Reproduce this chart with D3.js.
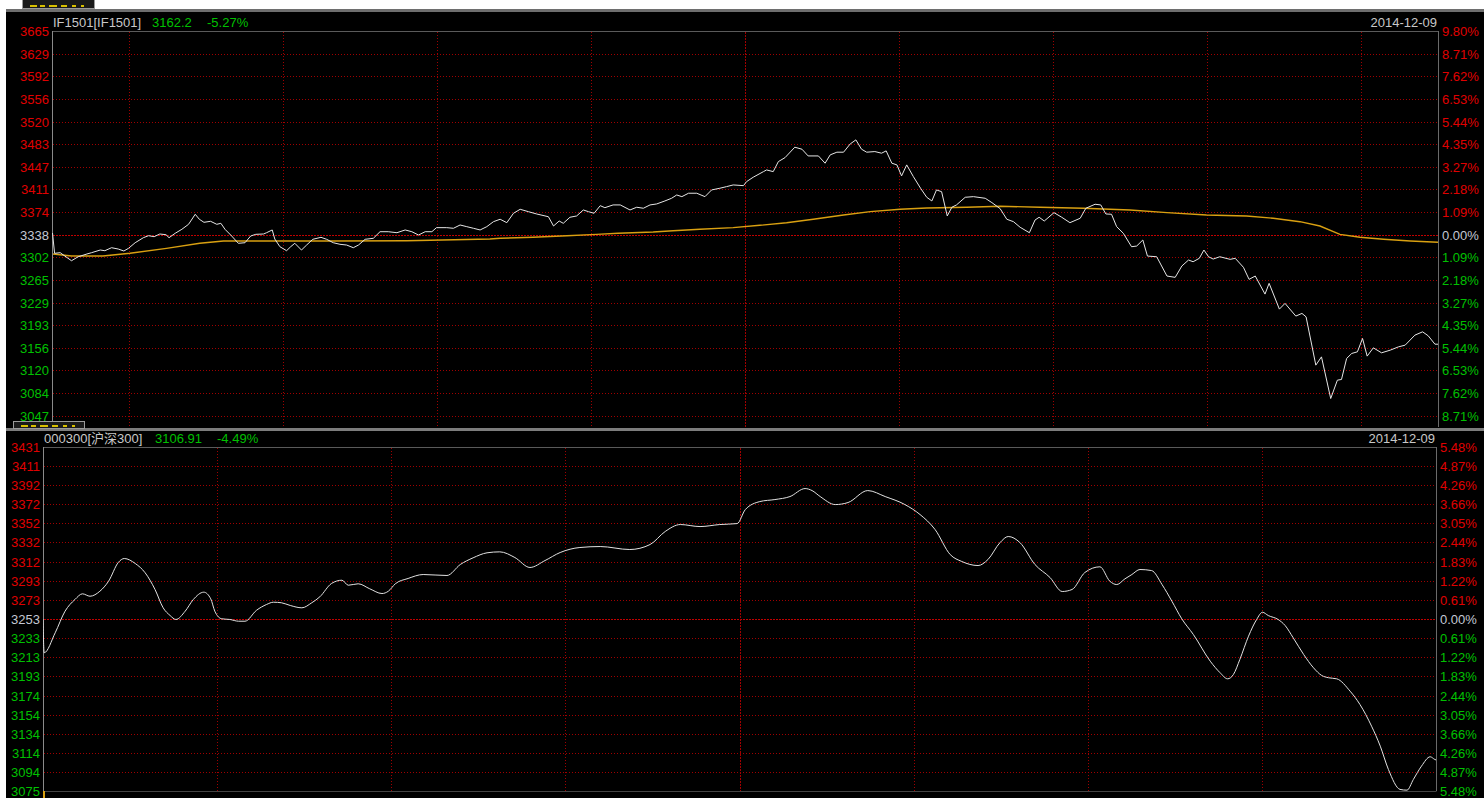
<!DOCTYPE html>
<html><head><meta charset="utf-8">
<script src="https://cdn.jsdelivr.net/npm/d3@7"></script>
<style>html,body{margin:0;padding:0;background:#fff;overflow:hidden}svg{display:block}</style>
</head><body><svg id="c" width="1484" height="798"></svg>
<script>
// ---------------- data ----------------
const topBase = 3338.1, topMaxPct = 9.80;           // IF1501 previous settlement
const botBase = 3253.0, botMaxPct = 5.48;           // CSI300 previous close
const topPriceLabels = [3665,3629,3592,3556,3520,3483,3447,3411,3374,3338,3302,3265,3229,3193,3156,3120,3084,3047];
const topPctLabels = [9.80,8.71,7.62,6.53,5.44,4.35,3.27,2.18,1.09,0,-1.09,-2.18,-3.27,-4.35,-5.44,-6.53,-7.62,-8.71];
const botPriceLabels = [3431,3411,3392,3372,3352,3332,3312,3293,3273,3253,3233,3213,3193,3174,3154,3134,3114,3094,3075];
const botPctLabels = [5.48,4.87,4.26,3.66,3.05,2.44,1.83,1.22,0.61,0,-0.61,-1.22,-1.83,-2.44,-3.05,-3.66,-4.26,-4.87,-5.48];
const topGridMinutes = [15,45,75,105,135,165,195,225,255];   // from 09:15, 270 min session
const topBreakMinute = 135;
const botGridMinutes = [30,60,90,120,150,180,210];           // from 09:30, 240 min session
const botBreakMinute = 120;

const ifMinute = [0.1,0.5,1.6,2.5,3.8,5.1,6.8,7.7,9.4,10.3,
11.6,12.9,14.0,14.9,16.2,17.8,18.8,19.9,21.0,22.2,
22.8,24.0,25.3,26.6,27.9,28.7,29.6,30.9,32.1,32.9,
33.7,35.0,36.3,37.6,38.7,39.7,41.2,41.8,42.9,43.4,
44.4,45.7,46.5,47.3,48.6,49.6,50.8,52.4,53.5,54.8,
56.1,57.4,58.7,59.7,61.0,62.6,63.9,65.5,67.2,68.8,
70.1,71.4,72.7,74.0,74.9,76.9,78.2,79.5,80.8,82.1,
83.4,84.7,86.0,87.3,88.6,89.9,91.2,92.8,94.4,96.7,
97.7,98.8,99.6,100.9,102.2,103.5,104.5,105.6,106.8,107.7,
109.3,110.7,112.6,113.9,115.2,116.5,117.8,119.4,120.7,121.7,
122.7,124.0,125.6,127.2,128.5,130.1,131.4,132.7,134.7,135.3,
136.6,138.6,139.2,140.5,141.5,142.8,144.7,146.1,147.3,149.3,
150.6,151.6,152.9,154.2,155.5,156.6,157.7,158.7,160.3,161.6,
162.5,163.6,164.6,165.5,166.5,167.8,169.2,170.4,171.4,172.3,
173.3,174.4,175.3,176.2,177.9,179.5,181.8,183.1,184.7,186.0,
187.3,188.6,190.4,191.5,192.3,193.3,195.2,196.7,198.3,200.3,
201.4,203.2,204.3,205.3,206.4,207.4,208.7,210.3,211.3,212.5,
213.4,215.2,217.2,218.8,220.1,221.4,222.3,223.5,224.4,225.3,
226.2,227.5,229.5,230.5,232.1,233.2,234.4,236.3,237.1,239.1,
240.2,242.3,243.5,244.3,246.2,247.3,249.1,250.4,251.2,252.2,
253.2,254.3,255.3,256.2,257.4,259.0,260.7,262.3,263.6,265.5,
267.0,268.1,269.4,270];
const ifPrice = [3340.8,3308.2,3309.2,3303.8,3296.3,3302.7,3307.1,3309.2,3313.5,3312.4,
3317.2,3315.1,3311.9,3316.2,3325.2,3333.3,3336.5,3334.9,3339.2,3338.1,
3333.3,3340.4,3346.8,3354.8,3370.9,3362.9,3358.0,3359.6,3354.8,3356.4,
3346.8,3336.0,3324.3,3325.2,3336.0,3338.7,3339.2,3341.3,3345.7,3331.2,
3318.8,3312.4,3318.8,3324.3,3313.5,3321.5,3330.7,3333.9,3330.7,3325.2,
3322.7,3321.5,3317.2,3321.5,3330.7,3332.3,3342.9,3342.9,3341.3,3345.7,
3342.9,3337.6,3342.9,3342.9,3349.4,3349.4,3348.4,3353.7,3351.0,3348.4,
3345.7,3351.0,3359.0,3362.9,3357.4,3372.5,3378.9,3375.1,3371.4,3367.0,
3352.1,3360.1,3356.4,3366.1,3368.2,3377.8,3375.1,3372.5,3384.7,3381.5,
3385.9,3385.9,3377.8,3382.2,3380.6,3385.9,3387.5,3392.3,3396.6,3401.9,
3399.2,3404.7,3404.7,3399.2,3410.0,3412.7,3415.3,3418.0,3416.9,3423.3,
3430.4,3439.4,3442.1,3439.4,3455.5,3461.9,3478.6,3475.4,3464.6,3464.6,
3452.9,3466.3,3470.6,3470.6,3483.9,3490.4,3475.4,3470.6,3471.6,3469.0,
3472.7,3452.9,3450.2,3432.5,3450.2,3431.4,3412.7,3398.2,3392.3,3410.0,
3407.2,3368.2,3382.2,3385.9,3398.2,3399.2,3396.6,3389.6,3380.0,3362.9,
3359.0,3350.0,3341.3,3361.7,3366.1,3360.1,3373.5,3366.1,3357.4,3364.5,
3380.6,3387.0,3385.9,3371.4,3370.9,3351.0,3340.4,3318.8,3319.9,3329.6,
3303.8,3302.7,3271.7,3269.6,3287.8,3297.4,3294.7,3300.2,3313.5,3302.7,
3299.0,3302.7,3298.5,3300.2,3285.7,3266.4,3271.7,3242.7,3260.0,3218.6,
3227.8,3207.4,3211.7,3206.2,3128.6,3141.9,3075.0,3104.5,3105.6,3139.4,
3147.4,3150.0,3171.5,3143.1,3156.4,3148.4,3152.7,3158.0,3160.7,3176.8,
3182.1,3175.7,3162.3,3162.2];

const ifAvgMinute = [0.2,3.8,9.9,15.2,22.3,28.8,33.4,41.8,54.8,69.1,
85.3,87.3,93.7,100.3,106.1,110.3,117.1,121.0,126.2,132.7,
137.9,143.1,148.3,154.2,159.4,165.2,170.4,178.2,184.7,192.5,
200.9,210.0,217.2,224.9,232.7,237.9,243.1,247.0,250.9,254.8,
259.4,264.6,270];
const ifAvgPrice = [3307.1,3303.8,3303.8,3308.2,3316.2,3324.3,3328.0,3328.0,3328.0,3328.5,
3331.2,3332.3,3333.9,3336.5,3338.7,3340.4,3342.4,3344.5,3346.8,3349.4,
3353.2,3357.4,3362.9,3369.8,3375.1,3378.9,3381.0,3382.2,3383.8,3382.2,
3380.6,3377.8,3373.5,3369.8,3368.2,3364.5,3359.0,3352.1,3338.7,3333.9,
3330.7,3328.0,3325.9];

const hsMinute = [0,0.2,2.1,3.8,5.5,6.8,8.1,9.8,11.3,13.0,
14.0,15.9,17.6,19.3,20.7,21.9,22.9,24.5,25.9,27.7,
28.9,29.6,30.8,32.2,33.7,34.8,36.8,38.5,39.7,41.1,
42.6,44.6,46.3,47.7,49.7,51.5,52.6,54.3,56.3,58.4,
59.5,60.7,62.9,65.5,69.6,71.9,74.1,76.5,78.7,81.3,
83.9,86.5,89.1,92.5,96.0,101.1,104.6,107.2,109.8,113.2,
116.6,119.6,121.0,123.5,126.1,128.7,131.3,132.5,133.9,136.5,
138.7,142.1,145.1,148.5,151.1,153.7,156.3,158.3,161.1,162.8,
164.9,166.3,168.3,170.9,173.5,175.6,177.3,179.5,182.1,183.8,
185.0,186.4,187.6,189.0,191.0,192.8,194.5,196.2,198.2,201.1,
202.8,204.1,205.1,206.2,207.7,209.1,210.1,211.1,212.8,214.0,
215.4,217.2,218.9,220.3,221.5,222.9,225.2,226.9,228.9,230.4,
231.8,233.8,235.0,236.1,237.5,239.0,239.8,240];
const hsPrice = [3253.0,3218.0,3238.7,3261.1,3273.2,3279.1,3276.6,3281.8,3292.2,3311.8,
3315.7,3310.5,3300.9,3283.6,3264.6,3256.6,3252.5,3261.1,3273.2,3280.8,
3273.9,3261.1,3253.2,3252.5,3250.7,3250.7,3262.1,3268.0,3270.4,3269.8,
3267.0,3264.6,3269.8,3276.0,3289.8,3293.2,3288.0,3289.5,3284.3,3279.4,
3281.8,3289.5,3295.0,3299.1,3298.1,3309.5,3316.4,3321.6,3322.6,3316.7,
3306.4,3313.6,3321.9,3327.1,3328.1,3325.0,3330.2,3343.7,3350.9,3348.8,
3350.9,3351.9,3366.4,3374.7,3376.8,3379.9,3388.2,3386.1,3379.9,3371.6,
3373.7,3386.1,3379.9,3371.6,3361.3,3345.7,3319.8,3312.6,3308.4,3314.6,
3332.3,3338.5,3332.3,3309.5,3296.0,3281.5,3283.6,3301.2,3307.1,3292.2,
3288.7,3294.6,3299.1,3304.3,3303.2,3288.7,3271.4,3253.2,3236.9,3209.3,
3197.3,3191.0,3195.5,3211.0,3235.2,3252.5,3260.0,3256.6,3252.5,3246.3,
3233.5,3216.2,3202.4,3194.5,3192.1,3191.0,3178.2,3164.4,3141.9,3121.2,
3097.1,3076.4,3075.6,3086.7,3100.5,3110.2,3107.4,3106.9];

// ---------------- drawing ----------------
const FONT = "'Liberation Sans', Tahoma, 'Noto Sans CJK SC', sans-serif";
const RED = "#e00000", GREEN = "#00c000", BASEC = "#c4c8d4", GRID = "#a00000";
const svg = d3.select("#c");

svg.append("rect").attr("width",1484).attr("height",798).attr("fill","#fff");
svg.append("rect").attr("x",6).attr("y",9).attr("width",1478).attr("height",3).attr("fill","#6e6e6e");
svg.append("rect").attr("x",6).attr("y",12).attr("width",1478).attr("height",786).attr("fill","#000");

// small cut-off toolbar tabs (decorative, no readable text)
function tab(x, y, w, h) {
  svg.append("rect").attr("x",x+0.5).attr("y",y+0.5).attr("width",w-1).attr("height",h-1)
    .attr("fill","#1a1a1a").attr("stroke","#9a9a9a");
  const marks = [[8,7],[18,5],[27,8],[39,6],[50,4],[59,3]];
  marks.forEach(([dx, len]) => svg.append("rect").attr("x", x + dx).attr("y", y + h - 4)
    .attr("width", len).attr("height", 2).attr("fill", "#d8c000"));
}
tab(22, -2, 73, 11);

function panel(cfg) {
  const x = d3.scaleLinear().domain([0, cfg.minutes]).range([cfg.x0, cfg.x1]);
  const y = d3.scaleLinear().domain([cfg.base, cfg.base * (1 + cfg.maxPct / 100)]).range([cfg.baseY, cfg.y0]);
  const yPct = p => y(cfg.base * (1 + p / 100));
  const g = svg.append("g");
  svg.select("defs").empty() && svg.append("defs");
  svg.select("defs").append("clipPath").attr("id", cfg.id).append("rect")
    .attr("x", cfg.x0).attr("y", cfg.y0 - 2).attr("width", cfg.x1 - cfg.x0).attr("height", cfg.yClip - cfg.y0 + 2);

  // horizontal grid
  g.selectAll("line.h").data(cfg.pcts.filter(p => p !== cfg.pcts[0])).join("line")
    .attr("x1", cfg.x0 + 1).attr("x2", cfg.x1)
    .attr("y1", p => Math.round(yPct(p)) + 0.5).attr("y2", p => Math.round(yPct(p)) + 0.5)
    .attr("stroke", p => p === 0 ? "#c00000" : GRID)
    .attr("stroke-dasharray", p => p === 0 ? "2,1" : "1,2");
  // vertical grid
  g.selectAll("line.v").data(cfg.grid).join("line")
    .attr("x1", m => Math.round(x(m)) + 0.5).attr("x2", m => Math.round(x(m)) + 0.5)
    .attr("y1", cfg.y0 + 1).attr("y2", cfg.yClip)
    .attr("stroke", GRID)
    .attr("stroke-dasharray", m => m === cfg.brk ? "2,1" : "1,2");

  // frame
  g.append("line").attr("x1", cfg.x0).attr("x2", cfg.x1 + 0.5).attr("y1", cfg.y0 + 0.5).attr("y2", cfg.y0 + 0.5).attr("stroke", "#5a5a5a");
  g.append("line").attr("x1", cfg.x0 + 0.5).attr("x2", cfg.x0 + 0.5).attr("y1", cfg.y0).attr("y2", cfg.yClip).attr("stroke", "#8a8a8a");
  g.append("line").attr("x1", cfg.x1 + 0.5).attr("x2", cfg.x1 + 0.5).attr("y1", cfg.y0).attr("y2", cfg.yClip).attr("stroke", "#6a6a6a");
  if (cfg.bottomLine) g.append("line").attr("x1", cfg.x0).attr("x2", cfg.x1 + 0.5)
    .attr("y1", Math.round(yPct(cfg.pcts[cfg.pcts.length - 1])) + 0.5).attr("y2", Math.round(yPct(cfg.pcts[cfg.pcts.length - 1])) + 0.5)
    .attr("stroke", "#444");

  const col = p => p > 0 ? RED : (p < 0 ? GREEN : BASEC);
  // left price labels
  g.selectAll("text.l").data(cfg.prices).join("text")
    .attr("x", cfg.x0 - 3).attr("y", (d, i) => yPct(cfg.pcts[i]) + 5)
    .attr("text-anchor", "end").attr("font-family", FONT).attr("font-size", 13)
    .attr("fill", (d, i) => col(cfg.pcts[i])).text(d => d);
  // right percent labels
  g.selectAll("text.r").data(cfg.pcts).join("text")
    .attr("x", cfg.x1 + 4).attr("y", p => yPct(p) + 5)
    .attr("font-family", FONT).attr("font-size", 13)
    .attr("fill", col).text(p => Math.abs(p).toFixed(2) + "%");

  // header
  const hy = cfg.y0 - 4;
  const h = g.append("text").attr("y", hy).attr("font-family", FONT).attr("font-size", 13);
  h.append("tspan").attr("x", cfg.x0 + 1).attr("fill", "#c8c8c8").text(cfg.title);
  h.append("tspan").attr("x", cfg.valX).attr("fill", GREEN).text(cfg.last);
  h.append("tspan").attr("x", cfg.chgX).attr("fill", GREEN).text(cfg.chg);
  g.append("text").attr("x", cfg.x1 - 1).attr("y", hy).attr("text-anchor", "end")
    .attr("font-family", FONT).attr("font-size", 13).attr("fill", "#c8c8c8").text("2014-12-09");

  const lines = g.append("g").attr("clip-path", `url(#${cfg.id})`);
  cfg.series.forEach(s => {
    const pts = s.m.map((m, i) => [m, s.v[i]]);
    lines.append("path").attr("d", d3.line().x(d => x(d[0])).y(d => y(d[1])).curve(s.curve)(pts))
      .attr("fill", "none").attr("stroke", s.color).attr("stroke-width", s.w);
  });
}

panel({
  id: "clipTop", x0: 52, x1: 1438, y0: 31, baseY: 234.7, yClip: 427, minutes: 270,
  base: topBase, maxPct: topMaxPct, pcts: topPctLabels, prices: topPriceLabels,
  grid: topGridMinutes, brk: topBreakMinute,
  title: "IF1501[IF1501]", last: "3162.2", chg: "-5.27%", valX: 152, chgX: 207,
  series: [
    { m: ifAvgMinute, v: ifAvgPrice, color: "#d9a011", w: 1.4, curve: d3.curveLinear },
    { m: ifMinute, v: ifPrice, color: "#e6e6e6", w: 1, curve: d3.curveLinear }
  ]
});

// separator between panels
svg.append("rect").attr("x", 6).attr("y", 428).attr("width", 1478).attr("height", 3).attr("fill", "#7c7c7c");
tab(13, 421, 72, 8);

panel({
  id: "clipBot", x0: 43, x1: 1436, y0: 447, baseY: 619, yClip: 791, minutes: 240,
  base: botBase, maxPct: botMaxPct, pcts: botPctLabels, prices: botPriceLabels,
  grid: botGridMinutes, brk: botBreakMinute, bottomLine: true,
  title: "000300[沪深300]", last: "3106.91", chg: "-4.49%", valX: 155, chgX: 217,
  series: [
    { m: hsMinute, v: hsPrice, color: "#e2e2e2", w: 1, curve: d3.curveMonotoneX }
  ]
});
svg.append("rect").attr("x", 43).attr("y", 791).attr("width", 2).attr("height", 7).attr("fill", "#d9a011");
</script></body></html>
